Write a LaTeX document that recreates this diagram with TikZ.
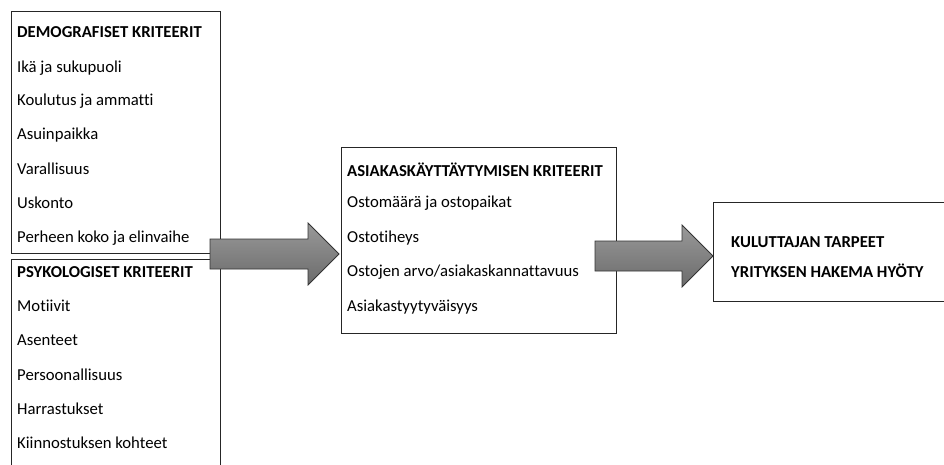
\documentclass[tikz,border=0pt]{standalone}
\usepackage{fontspec}
\setmainfont[Ligatures=NoCommon]{Carlito}
\usetikzlibrary{positioning}
\begin{document}
\begin{tikzpicture}[x=1pt,y=-1pt]
\tikzstyle{every node}=[anchor=west,inner sep=0pt,font=\fontsize{16.7}{19}\selectfont]
\tikzstyle{otsikko}=[font=\fontsize{16.7}{19}\selectfont\bfseries]
\tikzstyle{laatikko}=[draw=black!85,line width=0.8pt]
\tikzstyle{nuoli}=[draw=black!80,line width=0.8pt,top color=black!40,bottom color=black!58]
\useasboundingbox (0,0) rectangle (944,465);

% laatikot
\draw[laatikko,fill=white] (11,11) rectangle (220,253);
\draw[laatikko,fill=white] (11,259) rectangle (220,480);
\draw[laatikko,fill=white] (341,147) rectangle (616,333);
\draw[laatikko,fill=white] (713,202) rectangle (955,301);

% nuolet
\draw[nuoli] (210,239) -- (308,239) -- (308,223) -- (339,254) -- (308,285) -- (308,269) -- (210,269) -- cycle;
\draw[nuoli] (595,241) -- (682,241) -- (682,225) -- (713,256) -- (682,287) -- (682,271) -- (595,271) -- cycle;

\node[otsikko](d0) at (17,32) {DEMOGRAFISET KRITEERIT};
\node(d1) at (17,68) {Ikä ja sukupuoli};
\node(d2) at (17,101) {Koulutus ja ammatti};
\node(d3) at (17,135) {Asuinpaikka};
\node(d4) at (17,169) {Varallisuus};
\node(d5) at (17,203) {Uskonto};
\node(d6) at (17,238) {Perheen koko ja elinvaihe};

\node[otsikko](p0) at (17,272) {PSYKOLOGISET KRITEERIT};
\node(p1) at (17,306) {Motiivit};
\node(p2) at (17,340) {Asenteet};
\node(p3) at (17,375) {Persoonallisuus};
\node(p4) at (17,409) {Harrastukset};
\node(p5) at (17,443) {Kiinnostuksen kohteet};

\node[otsikko](a0) at (347,170) {ASIAKASKÄYTTÄYTYMISEN KRITEERIT};
\node(a1) at (347,203) {Ostomäärä ja ostopaikat};
\node(a2) at (347,238) {Ostotiheys};
\node(a3) at (347,272) {Ostojen arvo/asiakaskannattavuus};
\node(a4) at (347,307) {Asiakastyytyväisyys};

\node[otsikko](k0) at (731,242) {KULUTTAJAN TARPEET};
\node[otsikko](k1) at (731,271) {YRITYKSEN HAKEMA HYÖTY};
\end{tikzpicture}
\end{document}
